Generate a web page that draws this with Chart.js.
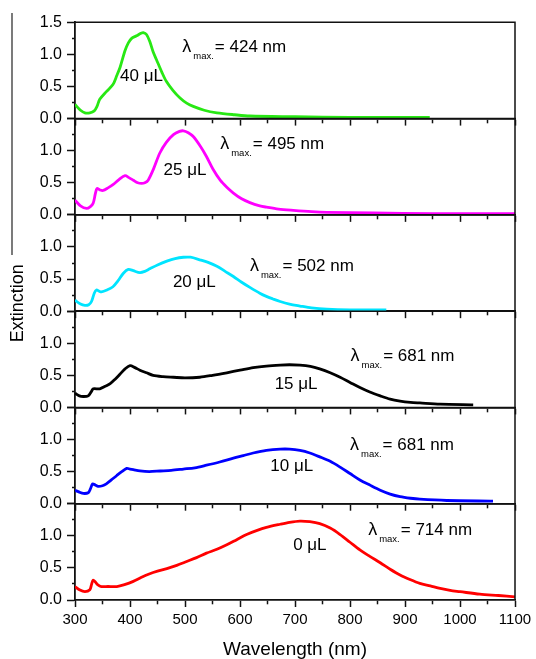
<!DOCTYPE html>
<html><head><meta charset="utf-8">
<script src="https://cdn.jsdelivr.net/npm/chart.js@4.4.1/dist/chart.umd.min.js"></script>
<style>
html,body{margin:0;padding:0;background:#fff;}
#wrap{position:relative;width:536px;height:659px;}
#wrap canvas{position:absolute;left:0;top:0;}
</style>
</head><body><div id="wrap"></div>
<script>
// ---------------- data ----------------
const volumes = ['40 μL','25 μL','20 μL','15 μL','10 μL','0 μL'];
const lambdaMax = [424, 495, 502, 681, 681, 714];
const xTickValues = [300,400,500,600,700,800,900,1000,1100];
const yTickLabels = ['0.0','0.5','1.0','1.5'];

const wl40  = [300,310,318,327,335,340,345,357,369,376,382,391,397,403,412,420,424,430,436,442,448,458,466,478,491,503,515,535,558,590,618,700,800,945];
const ext40 = [0.22,0.13,0.09,0.09,0.12,0.19,0.30,0.42,0.53,0.67,0.80,1.06,1.18,1.25,1.29,1.33,1.34,1.31,1.20,1.04,0.92,0.72,0.58,0.44,0.32,0.24,0.19,0.13,0.09,0.06,0.04,0.03,0.02,0.02];

const wl25  = [300,310,321,328,333,337,340,345,351,360,369,380,391,398,406,414,421,427,433,443,454,466,479,490,497,506,515,527,539,551,564,576,588,603,618,636,648,670,697,730,758,842,950,1100];
const ext25 = [0.23,0.14,0.10,0.13,0.18,0.33,0.41,0.39,0.38,0.42,0.47,0.55,0.61,0.58,0.54,0.50,0.49,0.50,0.54,0.72,0.96,1.13,1.25,1.30,1.31,1.28,1.22,1.08,0.91,0.71,0.54,0.43,0.34,0.25,0.19,0.14,0.12,0.09,0.07,0.05,0.04,0.03,0.02,0.02];

const wl20  = [300,310,318,325,330,335,339,344,348,358,369,378,388,397,406,418,427,436,450,467,482,497,510,527,542,558,573,588,603,618,636,648,660,673,690,709,730,758,800,866];
const ext20 = [0.17,0.11,0.09,0.10,0.15,0.28,0.33,0.31,0.30,0.33,0.38,0.47,0.59,0.65,0.63,0.60,0.62,0.66,0.72,0.78,0.82,0.84,0.84,0.80,0.76,0.70,0.62,0.54,0.45,0.37,0.28,0.23,0.19,0.15,0.11,0.08,0.05,0.03,0.02,0.02];

const wl15  = [300,308,315,324,330,333,345,355,364,373,382,391,400,409,418,430,442,460,479,500,527,550,576,600,624,648,673,690,709,728,745,764,782,800,818,836,855,873,891,910,927,964,1024];
const ext15 = [0.22,0.18,0.17,0.18,0.25,0.29,0.29,0.33,0.37,0.44,0.52,0.60,0.65,0.62,0.58,0.54,0.50,0.48,0.47,0.46,0.47,0.50,0.54,0.58,0.62,0.645,0.66,0.665,0.66,0.64,0.60,0.54,0.47,0.39,0.31,0.24,0.18,0.13,0.10,0.08,0.07,0.05,0.04];

const wl10  = [300,308,315,324,328,332,337,342,350,357,366,376,385,394,400,406,418,435,455,475,497,518,539,563,588,606,624,648,673,690,709,727,745,764,782,800,818,836,855,873,891,910,927,976,1060];
const ext10 = [0.21,0.18,0.16,0.17,0.23,0.31,0.29,0.27,0.28,0.31,0.37,0.44,0.50,0.55,0.54,0.53,0.51,0.50,0.51,0.52,0.54,0.56,0.60,0.65,0.71,0.75,0.79,0.83,0.85,0.85,0.83,0.79,0.73,0.66,0.57,0.47,0.37,0.29,0.21,0.15,0.11,0.085,0.07,0.05,0.04];

const wl0   = [300,308,318,327,330,333,337,341,348,360,376,390,406,420,436,450,467,485,503,521,539,558,576,594,612,630,648,673,690,709,727,745,764,782,800,818,836,855,873,891,909,927,946,964,982,1000,1036,1070,1100];
const ext0  = [0.21,0.16,0.13,0.16,0.24,0.31,0.28,0.24,0.21,0.21,0.21,0.24,0.29,0.35,0.41,0.45,0.49,0.54,0.60,0.66,0.73,0.79,0.86,0.94,1.02,1.08,1.13,1.18,1.21,1.23,1.22,1.19,1.12,1.02,0.90,0.78,0.68,0.58,0.48,0.39,0.32,0.26,0.22,0.18,0.15,0.13,0.09,0.07,0.05];

// ---------------- layout / style ----------------
const W = 536, H = 659;
const PLOT_LEFT = 75, PLOT_RIGHT = 515, PLOT_TOP = 22.3, PLOT_BOTTOM = 600;
const PANEL_H = (PLOT_BOTTOM - PLOT_TOP) / 6;
const FONT = "'Liberation Sans', Arial, Helvetica, sans-serif";
const colors = ['rgb(40,232,20)','rgb(255,0,255)','rgb(0,228,255)','#000000','rgb(0,0,255)','rgb(255,0,0)'];
const series = [[wl40,ext40],[wl25,ext25],[wl20,ext20],[wl15,ext15],[wl10,ext10],[wl0,ext0]];
// annotation anchors in data coordinates [nm, extinction] (baseline)
const lamAnchor = [[495,1.04],[564,1.02],[618,0.63],[801,0.72],[800,0.84],[833,1.02]];
const volAnchor = [[421,0.585],[500,0.62],[517,0.38],[702,0.29],[694,0.51],[727,0.785]];

const decor = {
  id: 'decor',
  afterDraw(chart, args, opts) {
    const {ctx, chartArea: a, scales: {x, y}} = chart;
    const i = opts.index;
    ctx.save();
    ctx.strokeStyle = '#111'; ctx.lineWidth = 1.5;
    ctx.beginPath();
    ctx.moveTo(a.left, a.top); ctx.lineTo(a.right, a.top); ctx.lineTo(a.right, a.bottom);
    ctx.stroke();
    ctx.fillStyle = '#000';
    ctx.textBaseline = 'alphabetic';
    ctx.textAlign = 'left';
    let px = x.getPixelForValue(lamAnchor[i][0]);
    const py = y.getPixelForValue(lamAnchor[i][1]);
    ctx.font = '18px ' + FONT;
    ctx.fillText('λ', px, py);
    px += ctx.measureText('λ').width + 2;
    ctx.font = '9.5px ' + FONT;
    ctx.fillText('max.', px, py + 7);
    px += ctx.measureText('max.').width + 1;
    ctx.font = '17px ' + FONT;
    ctx.fillText('= ' + lambdaMax[i] + ' nm', px, py);
    ctx.textAlign = 'center';
    ctx.fillText(volumes[i], x.getPixelForValue(volAnchor[i][0]), y.getPixelForValue(volAnchor[i][1]));
    if (i === 0) {
      ctx.strokeStyle = '#222'; ctx.lineWidth = 1.2;
      ctx.beginPath(); ctx.moveTo(12, 13); ctx.lineTo(12, 255); ctx.stroke();
      ctx.save();
      ctx.translate(18, (PLOT_TOP + PLOT_BOTTOM) / 2 - 8);
      ctx.rotate(-Math.PI / 2);
      ctx.textAlign = 'center'; ctx.textBaseline = 'middle';
      ctx.font = '18px ' + FONT;
      ctx.fillText('Extinction', 0, 0);
      ctx.restore();
    }
    ctx.restore();
  }
};

const wrap = document.getElementById('wrap');
for (let i = 0; i < 6; i++) {
  const top = PLOT_TOP + i * PANEL_H;
  const bottom = top + PANEL_H;
  const last = i === 5;
  const xH = last ? (H - PLOT_BOTTOM) : 8;
  const cv = document.createElement('canvas');
  cv.width = W; cv.height = H;
  wrap.appendChild(cv);
  const [wl, ext] = series[i];
  new Chart(cv, {
    type: 'line',
    data: {
      datasets: [{
        data: wl.map((w, k) => ({x: w, y: ext[k]})),
        borderColor: colors[i],
        borderWidth: 2.8,
        pointRadius: 0,
        fill: false,
        tension: 0.3
      }]
    },
    options: {
      responsive: false,
      animation: false,
      devicePixelRatio: 1,
      events: [],
      layout: {padding: {left: 0, right: W - PLOT_RIGHT, top: top, bottom: H - bottom - xH}},
      plugins: {legend: {display: false}, tooltip: {enabled: false}, decor: {index: i}},
      scales: {
        x: {
          type: 'linear', min: 300, max: 1100,
          afterFit: s => { s.height = xH; },
          border: {color: '#111', width: 1.8},
          grid: {
            drawOnChartArea: false, drawTicks: true, tickLength: 7, tickWidth: 1.5, tickColor: '#111',
            tickBorderDash: c => (c.tick && c.tick.value % 100 !== 0) ? [3.5, 100] : []
          },
          ticks: {
            stepSize: 50, autoSkip: false, maxRotation: 0, padding: 4, color: '#000',
            font: {family: FONT, size: 15},
            callback: v => (last && xTickValues.includes(v)) ? String(v) : ''
          },
          title: {
            display: last, text: 'Wavelength (nm)', color: '#000',
            font: {family: FONT, size: 19, lineHeight: 1.0}, padding: {top: 0, bottom: 0}
          }
        },
        y: {
          type: 'linear', min: 0, max: 1.5,
          afterFit: s => { s.width = PLOT_LEFT; },
          border: {color: '#111', width: 1.8},
          grid: {
            drawOnChartArea: false, drawTicks: true, tickLength: 8, tickWidth: 1.5, tickColor: '#111',
            tickBorderDash: c => (c.tick && Math.round(c.tick.value * 4) % 2 !== 0) ? [3.5, 100] : [],
            tickBorderDashOffset: c => (c.tick && Math.round(c.tick.value * 4) % 2 !== 0) ? 98.5 : 0
          },
          ticks: {
            stepSize: 0.25, autoSkip: false, padding: 5, color: '#000',
            font: {family: FONT, size: 16},
            callback: v => {
              const q = Math.round(v * 4);
              if (q % 2 !== 0) return '';
              if (q === 6 && i !== 0) return '';
              return yTickLabels[q / 2];
            }
          }
        }
      }
    },
    plugins: [decor]
  });
}
</script>
</body></html>
